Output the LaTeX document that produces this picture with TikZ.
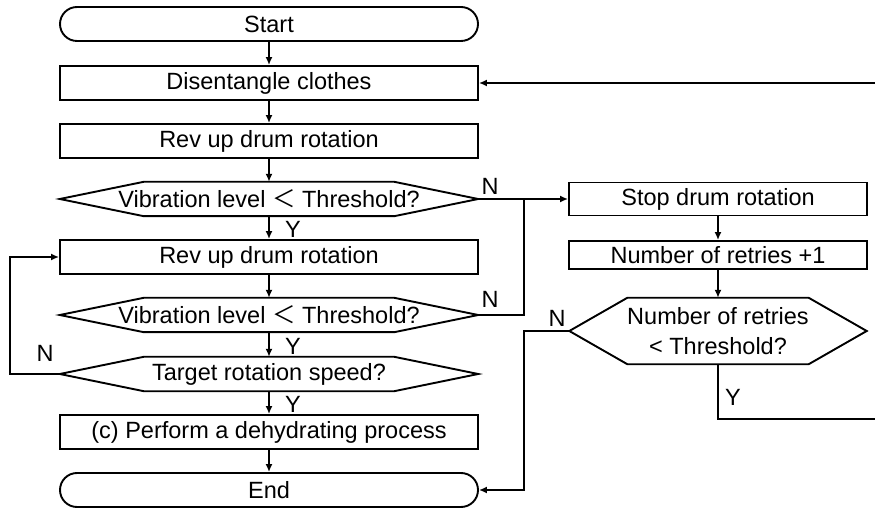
\documentclass[tikz,border=0pt]{standalone}
\usepackage{fontspec}
\setmainfont{Liberation Sans}
\newfontfamily\cjk{Noto Sans CJK SC}
\usetikzlibrary{shapes.misc,arrows.meta}
\begin{document}
\begin{tikzpicture}[x=1pt,y=1pt,
  every node/.style={font=\fontsize{23.5}{30}\selectfont},
  line/.style={line width=1.9pt},
  arr/.style={line width=1.9pt,-{Latex[length=8pt,width=7pt]}},
  procbox/.style={draw,line width=1.9pt,minimum height=34pt,minimum width=418pt,inner sep=0pt},
  term/.style={draw,rounded rectangle,line width=1.9pt,minimum height=34pt,minimum width=418pt,inner sep=0pt},
  hexnode/.style={minimum height=34pt,minimum width=418pt,inner sep=0pt},
  lbl/.style={inner sep=0pt}]
\useasboundingbox (0,0) rectangle (875,-510);

\node[term] (start) at (269,-24) {Start};
\node[procbox] (dis) at (269,-83) {Disentangle clothes};
\node[procbox] (rev1) at (269,-141) {Rev up drum rotation};
\node[hexnode] (h1) at (269,-199) {Vibration level {\cjk ＜} Threshold?};
\node[procbox] (rev2) at (269,-257) {Rev up drum rotation};
\node[hexnode] (h2) at (269,-315) {Vibration level {\cjk ＜} Threshold?};
\node[hexnode] (tg) at (269,-374) {Target rotation speed?};
\node[procbox] (perf) at (269,-432) {(c) Perform a dehydrating process};
\node[term] (end) at (269,-490) {End};
\node[procbox,minimum width=298pt,minimum height=33pt] (stop) at (718,-199) {Stop drum rotation};
\node[procbox,minimum width=298pt,minimum height=28pt] (ret) at (718,-255) {Number of retries +1};
\node[hexnode,minimum width=297pt,minimum height=66pt,align=center] (h3) at (718,-331) {Number of retries\\< Threshold?};

% hexagon outlines
\foreach \n/\c in {h1/84,h2/84,tg/84,h3/58}{
  \draw[line,line join=miter] (\n.west) -- ([xshift=\c pt]\n.north west) -- ([xshift=-\c pt]\n.north east) -- (\n.east) -- ([xshift=-\c pt]\n.south east) -- ([xshift=\c pt]\n.south west) -- cycle;
}

% main column
\draw[arr] (start) -- (dis);
\draw[arr] (dis) -- (rev1);
\draw[arr] (rev1) -- (h1);
\draw[arr] (h1) -- (rev2);
\draw[arr] (rev2) -- (h2);
\draw[arr] (h2) -- (tg);
\draw[arr] (tg) -- (perf);
\draw[arr] (perf) -- (end);

% right branches
\coordinate (j1) at (524,-199);
\draw[arr] (h1.east) -- (stop.west);
\draw[line] (h2.east) -| (j1);
\draw[arr] (stop) -- (ret);
\draw[arr] (ret) -- (h3);
\coordinate (j3) at (524,-331);
\draw[arr] (h3.west) -- (j3) |- (end.east);
\coordinate (ry) at (875,-419);
\draw[line] (h3.south) |- (ry);
\coordinate (rt) at (875,-83);
\draw[arr] (rt) -- (dis.east);

% left loop
\coordinate (lj) at (10,-374);
\draw[arr] (tg.west) -- (lj) |- (rev2.west);

% labels
\node[lbl] (n1) at (490,-186) {N};
\node[lbl] (n2) at (490,-299) {N};
\node[lbl] (n3) at (45,-353) {N};
\node[lbl] (n4) at (557,-318) {N};
\node[lbl] (y1) at (293,-229) {Y};
\node[lbl] (y2) at (293,-346) {Y};
\node[lbl] (y3) at (293,-404) {Y};
\node[lbl] (y4) at (733,-397) {Y};
\end{tikzpicture}
\end{document}
